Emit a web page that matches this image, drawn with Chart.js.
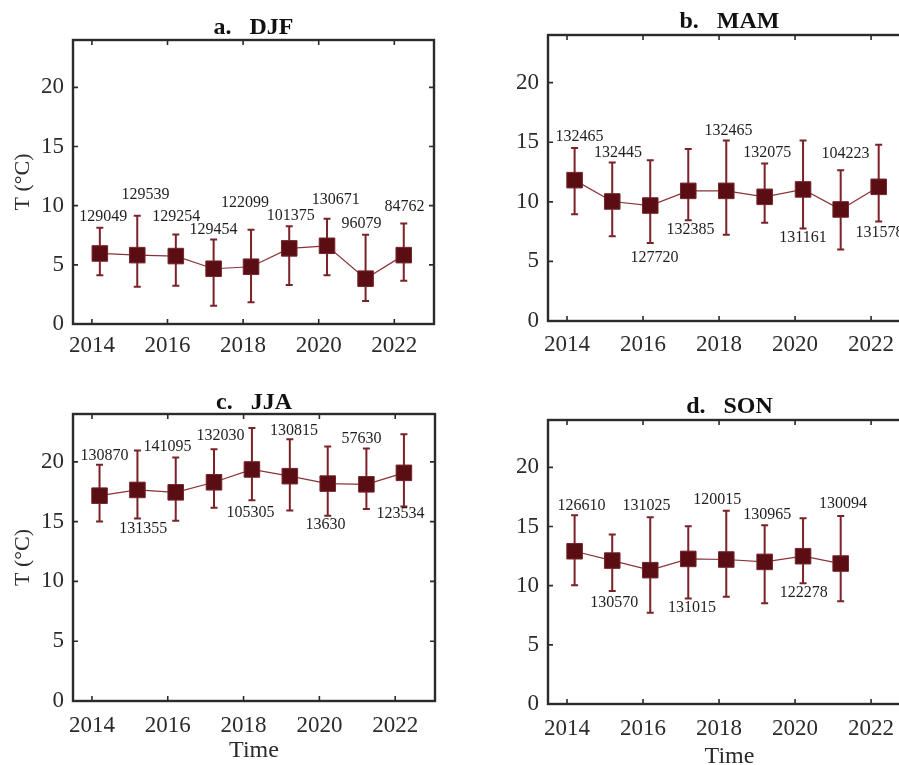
<!DOCTYPE html>
<html>
<head>
<meta charset="utf-8">
<script src="https://cdn.jsdelivr.net/npm/chart.js@4/dist/chart.umd.min.js"></script>
<style>
  html, body { margin: 0; padding: 0; background: #fff; overflow: hidden; width: 899px; height: 765px; }
  canvas { position: absolute; }
</style>
</head>
<body>
<canvas id="djf" width="450" height="380" style="left:0;top:0"></canvas>
<canvas id="mam" width="480" height="380" style="left:450px;top:0"></canvas>
<canvas id="jja" width="450" height="385" style="left:0;top:380px"></canvas>
<canvas id="son" width="480" height="391" style="left:450px;top:380px"></canvas>
<script>
// Shared axis ticks
const xTickYears = [2014, 2016, 2018, 2020, 2022];
const yTickTemps = [0, 5, 10, 15, 20];

// DJF (winter)
const timeDJF  = [2014.21, 2015.20, 2016.22, 2017.22, 2018.21, 2019.22, 2020.22, 2021.24, 2022.25];
const meanDJF  = [5.96, 5.82, 5.74, 4.67, 4.84, 6.39, 6.61, 3.83, 5.82];
const upperDJF = [8.13, 9.14, 7.57, 7.14, 7.96, 8.27, 8.89, 7.54, 8.50];
const lowerDJF = [4.13, 3.15, 3.23, 1.55, 1.83, 3.29, 4.13, 1.94, 3.66];
const countDJF = ['129049', '129539', '129254', '129454', '122099', '101375', '130671', '96079', '84762'];
const countXDJF = [2014.30, 2015.42, 2016.23, 2017.22, 2018.05, 2019.26, 2020.45, 2021.13, 2022.27];
const countYDJF = [9.06, 10.89, 9.06, 7.93, 10.24, 9.11, 10.46, 8.44, 9.90];

// MAM (spring)
const timeMAM  = [2014.20, 2015.19, 2016.19, 2017.19, 2018.19, 2019.20, 2020.21, 2021.20, 2022.20];
const meanMAM  = [11.82, 10.03, 9.69, 10.92, 10.92, 10.42, 11.04, 9.36, 11.26];
const upperMAM = [14.51, 13.31, 13.50, 14.43, 15.15, 13.22, 15.15, 12.66, 14.79];
const lowerMAM = [8.96, 7.11, 6.55, 8.46, 7.23, 8.24, 7.76, 5.99, 8.35];
const countMAM = ['132465', '132445', '127720', '132385', '132465', '132075', '131161', '104223', '131578'];
const countXMAM = [2014.33, 2015.34, 2016.30, 2017.25, 2018.25, 2019.27, 2020.21, 2021.33, 2022.22];
const countYMAM = [15.49, 14.15, 5.32, 7.65, 15.97, 14.15, 6.95, 14.03, 7.37];

// JJA (summer)
const timeJJA  = [2014.20, 2015.20, 2016.21, 2017.22, 2018.22, 2019.22, 2020.22, 2021.24, 2022.23];
const meanJJA  = [17.17, 17.65, 17.45, 18.29, 19.36, 18.80, 18.18, 18.12, 19.08];
const upperJJA = [19.75, 20.95, 20.36, 21.06, 22.83, 21.88, 21.29, 21.12, 22.30];
const lowerJJA = [15.01, 15.27, 15.07, 16.16, 16.78, 15.94, 15.49, 16.05, 16.27];
const countJJA = ['130870', '131355', '141095', '132030', '105305', '130815', '13630', '57630', '123534'];
const countXJJA = [2014.33, 2015.35, 2015.99, 2017.39, 2018.18, 2019.33, 2020.16, 2021.11, 2022.14];
const countYJJA = [20.48, 14.37, 21.23, 22.21, 15.71, 22.63, 14.73, 21.93, 15.63];

// SON (autumn)
const timeSON  = [2014.20, 2015.19, 2016.19, 2017.19, 2018.19, 2019.20, 2020.21, 2021.20];
const meanSON  = [12.91, 12.12, 11.31, 12.26, 12.21, 12.01, 12.49, 11.87];
const upperSON = [15.95, 14.32, 15.78, 15.02, 16.34, 15.11, 15.70, 15.89];
const lowerSON = [10.04, 9.54, 7.71, 8.92, 9.06, 8.52, 10.21, 8.69];
const countSON = ['126610', '130570', '131025', '131015', '120015', '130965', '122278', '130094'];
const countXSON = [2014.38, 2015.24, 2016.09, 2017.29, 2017.95, 2019.27, 2020.23, 2021.26];
const countYSON = [16.74, 8.58, 16.74, 8.16, 17.22, 16.03, 9.42, 16.88];

const SERIF = "'Liberation Serif', 'Times New Roman', serif";
const INK = '#2b2b2b';
const BAR = '#7a2228';

// Vertical error bars with caps, drawn under the markers
const errorBars = {
  id: 'errorBars',
  beforeDatasetsDraw(chart, args, opts) {
    const {ctx, scales: {x, y}} = chart;
    ctx.save();
    ctx.strokeStyle = BAR;
    ctx.lineWidth = 2;
    opts.t.forEach((t, i) => {
      const px = x.getPixelForValue(t);
      const yHi = y.getPixelForValue(opts.hi[i]);
      const yLo = y.getPixelForValue(opts.lo[i]);
      ctx.beginPath();
      ctx.moveTo(px, yHi); ctx.lineTo(px, yLo);
      ctx.moveTo(px - 3.5, yHi); ctx.lineTo(px + 3.5, yHi);
      ctx.moveTo(px - 3.5, yLo); ctx.lineTo(px + 3.5, yLo);
      ctx.stroke();
    });
    ctx.restore();
  }
};

// Sample-count annotations
const countLabels = {
  id: 'countLabels',
  afterDatasetsDraw(chart, args, opts) {
    const {ctx, scales: {x, y}} = chart;
    ctx.save();
    ctx.font = '16px ' + SERIF;
    ctx.fillStyle = '#1e1e1e';
    ctx.textAlign = 'center';
    ctx.textBaseline = 'middle';
    opts.text.forEach((s, i) => {
      ctx.fillText(s, x.getPixelForValue(opts.lx[i]), y.getPixelForValue(opts.ly[i]));
    });
    ctx.restore();
  }
};

// Closed axes box with inward tick marks, plus panel heading
const axesBox = {
  id: 'axesBox',
  afterDraw(chart, args, opts) {
    const {ctx, chartArea: a, scales: {x, y}} = chart;
    ctx.save();
    ctx.strokeStyle = INK;
    ctx.lineWidth = 1.6;
    ctx.beginPath();
    xTickYears.forEach(v => {
      const px = x.getPixelForValue(v);
      ctx.moveTo(px, a.bottom); ctx.lineTo(px, a.bottom - 5);
      ctx.moveTo(px, a.top); ctx.lineTo(px, a.top + 5);
    });
    yTickTemps.forEach(v => {
      const py = y.getPixelForValue(v);
      ctx.moveTo(a.left, py); ctx.lineTo(a.left + 5, py);
      ctx.moveTo(a.right, py); ctx.lineTo(a.right - 5, py);
    });
    ctx.stroke();
    ctx.lineWidth = 2.4;
    ctx.strokeRect(a.left, a.top, a.right - a.left, a.bottom - a.top);
    ctx.fillStyle = '#111';
    ctx.font = 'bold 24px ' + SERIF;
    ctx.textAlign = 'center';
    ctx.textBaseline = 'middle';
    ctx.fillText(opts.heading, (a.left + a.right) / 2, a.top - opts.headingGap);
    ctx.restore();
  }
};

function panel(id, p) {
  return new Chart(document.getElementById(id), {
    type: 'line',
    data: {
      datasets: [{
        data: p.t.map((t, i) => ({x: t, y: p.mean[i]})),
        borderColor: '#8a3238',
        borderWidth: 1.2,
        pointStyle: 'rect',
        pointRadius: 11,
        pointBackgroundColor: '#5a0e13',
        pointBorderColor: '#74252a',
        pointBorderWidth: 1,
        tension: 0
      }]
    },
    options: {
      responsive: false,
      animation: false,
      devicePixelRatio: 1,
      layout: {padding: {top: p.top, right: p.right, left: 0, bottom: 0}},
      scales: {
        x: {
          type: 'linear', min: 2013.5, max: 2023.05,
          afterBuildTicks: s => { s.ticks = xTickYears.map(v => ({value: v})); },
          afterFit: s => { s.height = p.xh; },
          grid: {display: false, drawTicks: false},
          border: {display: false},
          ticks: {callback: v => String(v), padding: p.xpad, color: INK, maxRotation: 0,
                  font: {family: SERIF, size: 23}},
          title: {display: p.xTitle, text: 'Time', color: INK, padding: {top: 0, bottom: 0},
                  font: {family: SERIF, size: 24}}
        },
        y: {
          min: 0, max: 24,
          afterBuildTicks: s => { s.ticks = yTickTemps.map(v => ({value: v})); },
          afterFit: s => { s.width = p.yw; },
          grid: {display: false, drawTicks: false},
          border: {display: false},
          ticks: {callback: v => String(v), padding: 9, color: INK,
                  font: {family: SERIF, size: 23}},
          title: {display: p.yTitle, text: 'T (°C)', color: INK, padding: {top: 10, bottom: 0},
                  font: {family: SERIF, size: 22}}
        }
      },
      plugins: {
        legend: {display: false},
        tooltip: {enabled: false},
        errorBars: {t: p.t, hi: p.hi, lo: p.lo},
        countLabels: {text: p.count, lx: p.lx, ly: p.ly},
        axesBox: {heading: p.heading, headingGap: p.gap}
      }
    },
    plugins: [errorBars, countLabels, axesBox]
  });
}

panel('djf', {t: timeDJF, mean: meanDJF, hi: upperDJF, lo: lowerDJF, count: countDJF,
  lx: countXDJF, ly: countYDJF, heading: 'a.   DJF', gap: 12,
  top: 40, right: 16, xh: 56, yw: 73, xpad: 8, xTitle: false, yTitle: true});
panel('mam', {t: timeMAM, mean: meanMAM, hi: upperMAM, lo: lowerMAM, count: countMAM,
  lx: countXMAM, ly: countYMAM, heading: 'b.   MAM', gap: 13,
  top: 35, right: 19, xh: 59, yw: 98, xpad: 10, xTitle: false, yTitle: false});
panel('jja', {t: timeJJA, mean: meanJJA, hi: upperJJA, lo: lowerJJA, count: countJJA,
  lx: countXJJA, ly: countYJJA, heading: 'c.   JJA', gap: 11,
  top: 34, right: 15, xh: 64, yw: 73, xpad: 11, xTitle: true, yTitle: true});
panel('son', {t: timeSON, mean: meanSON, hi: upperSON, lo: lowerSON, count: countSON,
  lx: countXSON, ly: countYSON, heading: 'd.   SON', gap: 13,
  top: 40, right: 19, xh: 67, yw: 98, xpad: 11, xTitle: true, yTitle: false});
</script>
</body>
</html>
